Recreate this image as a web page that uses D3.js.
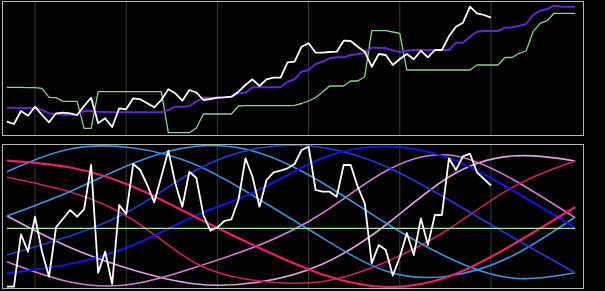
<!DOCTYPE html>
<html>
<head>
<meta charset="utf-8">
<script src="https://cdn.jsdelivr.net/npm/d3@7"></script>
<style>
  body { margin: 0; background: #000; }
  svg { display: block; }
</style>
</head>
<body>
<svg id="chart" width="605" height="291"></svg>
<script>
// top panel: price (white), average (purple), band (green)
var price = [14.3,12,25,20.3,29.3,21,13.7,22.7,23.3,22.7,21,30,38.3,12.7,17.7,9,27.7,26.7,37.7,36.7,
  32.7,28.7,36,46.7,42.7,35.3,46,43.5,36,37,38.3,38.7,39.3,44.3,51,56.7,50,56.7,58.3,58.3,
  73.7,74.3,89.3,92.7,83.3,83.3,84,84.3,95.3,95,89.3,84.3,69.3,82,81,71,77,82,76.7,85.3,
  78.7,86,86,99.7,109.3,113.3,129.3,122.7,121,118.3];
var average = [28.3,28.3,28,28,27.7,26,22.7,21.7,21.3,21.3,21,25,25,24.3,24,23.7,23.7,23.7,23.7,23.7,
  23.7,23.7,23.7,26,29.3,29.3,30,34.3,38.5,38.3,38.3,39,39.3,42.7,43.3,48.7,48.7,48.7,48.7,48.7,
  54.3,56.7,64.3,66,72,74.3,77.7,78.7,78.7,81,81.7,83,88.3,88.3,87.7,85.5,84,85.3,86,86,
  86,86,86,86,93.3,93.3,99.3,104.3,105,105,105,108.3,108.7,110,112,121,125.3,127,130.3,129.3,
  129.3,129.3];
var band = [48.7,48.7,48.7,48.3,48.3,47.7,38.7,38.3,34.7,34.7,34.7,7.7,7.7,44.3,44.3,44.3,44.3,44.3,44.3,44.3,
  44.3,44.3,44.3,3.3,3.3,3.3,3.3,8,22,22,22,22,22,30,30.3,30.3,30.3,30.3,30.3,30.3,
  30.3,30.7,32.5,35,38.5,44,50,50,50,55,55,59.3,105.3,105.3,105.3,104,102.7,66,66,66,
  66,66,66,66,66,66,66,71,71,71,71,78.5,78.5,82.7,85,104.3,112.7,115.3,122.7,122.7,
  122.7,122.7];

// bottom panel: oscillator (white), level line (green), cycles
var oscillator = [2.3,2.3,54.7,37.3,72.3,37.3,12.3,61.7,70.3,79,72.3,79.7,124,16.3,37.3,5,84,75,125,119,
  104,86.7,112.3,138.3,105.7,82.3,117.3,111,74,58.3,61.7,68,69.7,89,130.7,112.3,82.3,109,116.7,118.3,
  120.7,125,139,142.3,99,97.3,97.3,92.3,124,124,102.3,85.7,25.7,44,39,13.5,32,56,34,70.7,
  44,74,74,130.7,119,132.7,135.3,116.7,110,103.5];
var level = 60.7;

var cycleIdx = [0, 9, 18, 27, 36, 45, 54, 63, 72, 81];
var cycleRed = [128.3,121.5,102.3,71.5,41,14.5,2,12.5,44,82];
var cycleSky1 = [117.3,140,141,124,89.5,51,18,13,33,72];
var cycleCrimson = [111.7,97,69,25.5,8,7.5,27,60,101.5,128];
var cycleSky2 = [73,97.5,125.7,142.7,136,106,66,31,11,16.3];
var cycleOrchid = [73,41.5,19,5,7,25,64,112,133,128];
var cycleRoyal = [34,53,80,119,141,141.5,122.5,89,52,16.3];
var cyclePink = [27.3,7,5,22,44,76,118,134,110,71.3];
var cycleBlue = [15.7,25,44,73.5,99.5,131,142.5,131,99,61.3];

var gridIdx = [4, 17, 30, 43, 56, 69];
var nBars = 82;

var svg = d3.select("#chart");

var x = d3.scaleLinear().domain([0, nBars - 1]).range([6.94, 575.2]);
var yTop = d3.scaleLinear().domain([0, 134]).range([136, 2]);
var yBot = d3.scaleLinear().domain([0, 145]).range([289, 144]);

function panel(y0, y1) {
  var g = svg.append("g");
  g.selectAll(".grid")
    .data(gridIdx)
    .enter().append("line")
    .attr("class", "grid")
    .attr("x1", function(d) { return x(d); })
    .attr("x2", function(d) { return x(d); })
    .attr("y1", y0)
    .attr("y2", y1)
    .style("stroke", "#383838")
    .style("stroke-width", 1);
  return g;
}

function drawLine(g, values, yScale, color, width) {
  var line = d3.line()
    .x(function(d, i) { return x(i); })
    .y(function(d) { return yScale(d); });
  g.append("path")
    .datum(values)
    .attr("d", line)
    .style("fill", "none")
    .style("stroke", color)
    .style("stroke-width", width)
    .style("stroke-linejoin", "round");
}

// top
var topG = panel(2, 136);
drawLine(topG, band, yTop, "#8fd08f", 1.3);
drawLine(topG, average, yTop, "#6526d0", 2);
drawLine(topG, price, yTop, "#ffffff", 1.8);
topG.append("rect")
  .attr("x", 2.5).attr("y", 1.5)
  .attr("width", 581).attr("height", 134)
  .style("fill", "none")
  .style("stroke", "#b8b8b8");

// bottom
var botG = panel(144, 289);

var cycles = [
  {v: cycleOrchid, c: "#e3a0e6", w: 1.6},
  {v: cyclePink, c: "#d67ad6", w: 1.5},
  {v: cycleCrimson, c: "#c8235e", w: 1.5},
  {v: cycleSky1, c: "#3c8fdc", w: 1.6},
  {v: cycleSky2, c: "#3a94e2", w: 1.6},
  {v: cycleRoyal, c: "#2438d8", w: 1.7},
  {v: cycleBlue, c: "#1414d4", w: 2.2},
  {v: cycleRed, c: "#e8206c", w: 2.2}
];

var cycleLine = d3.line()
  .x(function(d) { return x(d[0]); })
  .y(function(d) { return yBot(d[1]); })
  .curve(d3.curveNatural);

botG.selectAll(".cycle")
  .data(cycles)
  .enter().append("path")
  .attr("class", "cycle")
  .attr("d", function(d) { return cycleLine(cycleIdx.map(function(k, i) { return [k, d.v[i]]; })); })
  .style("fill", "none")
  .style("stroke", function(d) { return d.c; })
  .style("stroke-width", function(d) { return d.w; });

botG.append("line")
  .attr("x1", x(0)).attr("x2", x(nBars - 1))
  .attr("y1", yBot(level)).attr("y2", yBot(level))
  .style("stroke", "#a6e4a0")
  .style("stroke-width", 1.3);

drawLine(botG, oscillator, yBot, "#ffffff", 1.8);

botG.append("rect")
  .attr("x", 2.5).attr("y", 144.5)
  .attr("width", 581).attr("height", 144)
  .style("fill", "none")
  .style("stroke", "#b8b8b8");
</script>
</body>
</html>
